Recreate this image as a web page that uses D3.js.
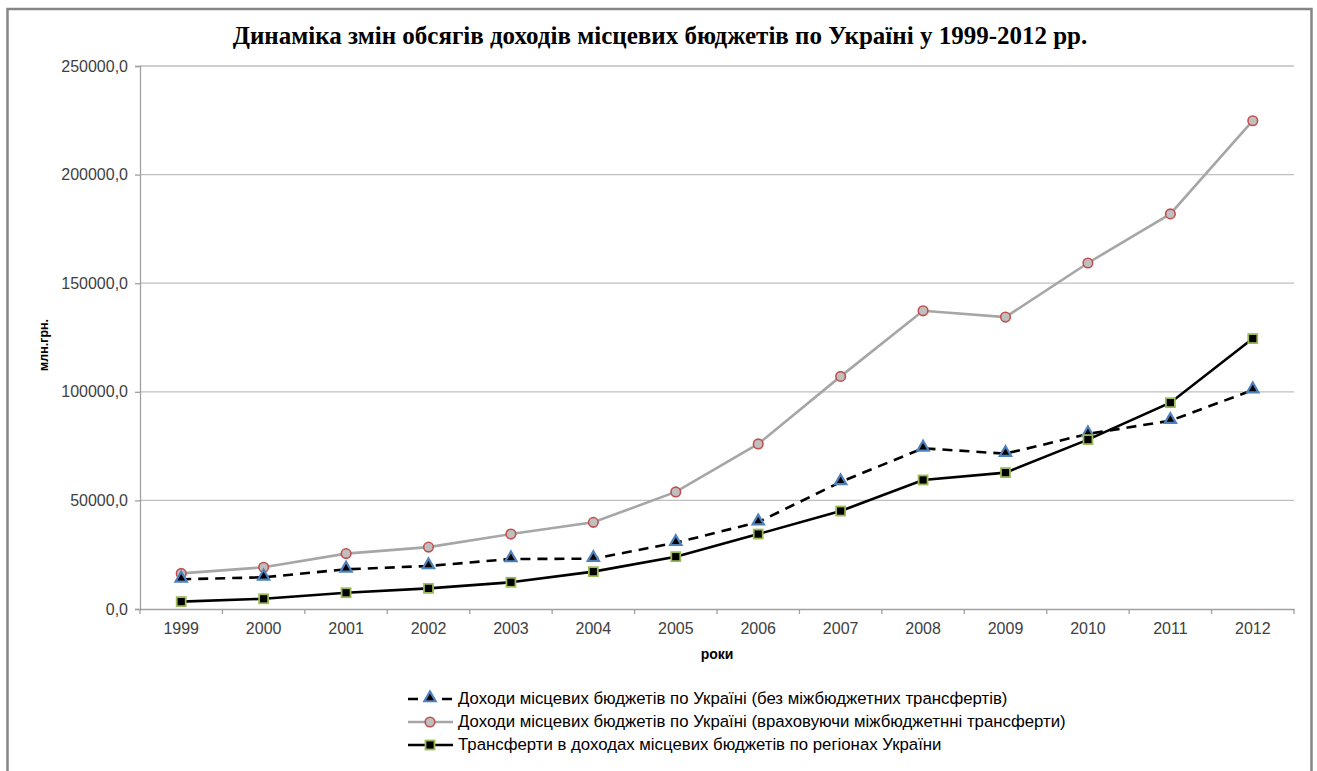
<!DOCTYPE html>
<html>
<head>
<meta charset="utf-8">
<script src="https://d3js.org/d3.v7.min.js"></script>
<style>
	body { margin: 0; background: #fff; }
	svg text { font-family: "Liberation Sans", Arial, sans-serif; fill: #404040; }
</style>
</head>
<body>
<div id='chart'></div>
<script type="text/javascript">
	const years = ['1999','2000','2001','2002','2003','2004','2005','2006','2007','2008','2009','2010','2011','2012']
	const withoutTransfers = [13670, 14590, 18280, 19800, 23020, 23160, 30500, 40000, 58500, 74000, 71500, 80600, 86700, 100800]
	const withTransfers = [16400, 19200, 25500, 28500, 34500, 39900, 53900, 76000, 107100, 137300, 134400, 159300, 181900, 224800]
	const transfers = [3400, 4700, 7500, 9500, 12300, 17200, 24100, 34500, 45100, 59400, 62800, 78000, 95000, 124500]
	const yTicks = [0, 50000, 100000, 150000, 200000, 250000]
	const seriesNames = [
		'Доходи місцевих бюджетів по Україні (без міжбюджетних трансфертів)',
		'Доходи місцевих бюджетів по Україні (враховуючи міжбюджетнні трансферти)',
		'Трансферти в доходах місцевих бюджетів по регіонах України'
	]
	const title = 'Динаміка змін обсягів доходів місцевих бюджетів по Україні у 1999-2012 рр.'

	const w = 1317, h = 771
	const svg = d3.select('#chart').append('svg')
		.attr('width', w)
		.attr('height', h)

	// outer frame
	svg.append('rect')
		.attr('x', 7.5).attr('y', 9)
		.attr('width', 1304).attr('height', 775)
		.style('fill', '#fff')
		.style('stroke', '#868686')
		.style('stroke-width', 2.5)

	const x = d3.scaleBand().domain(years).range([140, 1294])
	const y = d3.scaleLinear().domain([0, 250000]).range([609, 66])
	const fmt = d3.formatLocale({decimal: ',', thousands: '', grouping: [3]}).format('.1f')

	// gridlines
	svg.append('g')
		.selectAll('line')
		.data(yTicks.slice(1))
		.enter()
		.append('line')
		.attr('x1', 140).attr('x2', 1294)
		.attr('y1', d => y(d)).attr('y2', d => y(d))
		.style('stroke', '#bfbfbf')
		.style('stroke-width', 1.3)

	const yAxis = svg.append('g')
		.attr('transform', 'translate(140,0)')
		.call(d3.axisLeft(y).tickValues(yTicks).tickFormat(fmt).tickSize(5).tickPadding(7))
	yAxis.selectAll('path, line').style('stroke', '#a0a0a0').style('stroke-width', 1.3)
	yAxis.selectAll('text').style('font-size', '16px').style('fill', '#404040')

	const xAxis = svg.append('g')
		.attr('transform', 'translate(0,609)')
		.call(d3.axisBottom(x).tickSize(0).tickPadding(14))
	xAxis.select('path').style('stroke', '#a0a0a0').style('stroke-width', 1.3)
	xAxis.selectAll('text').style('font-size', '16px').style('fill', '#404040')
	svg.append('g')
		.selectAll('line')
		.data(years.concat(['end']))
		.enter()
		.append('line')
		.attr('x1', (d, i) => 140 + i * x.step()).attr('x2', (d, i) => 140 + i * x.step())
		.attr('y1', 609).attr('y2', 614)
		.style('stroke', '#a0a0a0')
		.style('stroke-width', 1.3)

	// titles
	svg.append('text')
		.attr('x', 660).attr('y', 44)
		.attr('text-anchor', 'middle')
		.style('font-family', '"Liberation Serif", "Times New Roman", serif')
		.style('font-weight', 'bold')
		.style('font-size', '25px')
		.style('fill', '#000')
		.text(title)

	svg.append('text')
		.attr('transform', 'translate(48,345) rotate(-90)')
		.attr('text-anchor', 'middle')
		.style('font-weight', 'bold')
		.style('font-size', '12.5px')
		.style('fill', '#000')
		.text('млн.грн.')

	svg.append('text')
		.attr('x', 717).attr('y', 659)
		.attr('text-anchor', 'middle')
		.style('font-weight', 'bold')
		.style('font-size', '14px')
		.style('fill', '#000')
		.text('роки')

	const cx = (d, i) => x(years[i]) + x.bandwidth() / 2
	const line = d3.line().x(cx).y(d => y(d))

	const styles = [
		{data: withoutTransfers, stroke: '#000', dash: '10,7', marker: 'tri'},
		{data: withTransfers, stroke: '#a6a6a6', dash: null, marker: 'circ'},
		{data: transfers, stroke: '#000', dash: null, marker: 'sq'}
	]

	function drawMarker(g, type, px, py) {
		if (type == 'tri') {
			g.append('path')
				.attr('d', d3.symbol().type(d3.symbolTriangle).size(55)())
				.attr('transform', 'translate(' + px + ',' + (py - 1) + ')')
				.style('fill', '#000')
				.style('stroke', '#4f81bd')
				.style('stroke-width', 2.2)
		} else if (type == 'circ') {
			g.append('circle')
				.attr('cx', px).attr('cy', py).attr('r', 4.8)
				.style('fill', '#bfbfbf')
				.style('stroke', '#c0504d')
				.style('stroke-width', 1.6)
		} else {
			g.append('rect')
				.attr('x', px - 4.5).attr('y', py - 4.5)
				.attr('width', 9).attr('height', 9)
				.style('fill', '#000')
				.style('stroke', '#9bbb59')
				.style('stroke-width', 1.8)
		}
	}

	// draw order: gray, dashed, solid
	;[1, 0, 2].forEach(k => {
		const s = styles[k]
		const g = svg.append('g')
		g.append('path')
			.datum(s.data)
			.attr('d', line)
			.style('fill', 'none')
			.style('stroke', s.stroke)
			.style('stroke-width', 2.6)
			.style('stroke-dasharray', s.dash)
		s.data.forEach((d, i) => drawMarker(g, s.marker, cx(d, i), y(d)))
	})

	// legend
	const legendY = [699, 722, 745]
	styles.forEach((s, i) => {
		const g = svg.append('g')
		g.append('line')
			.attr('x1', 408).attr('x2', 453)
			.attr('y1', legendY[i]).attr('y2', legendY[i])
			.style('stroke', s.stroke)
			.style('stroke-width', 2.6)
			.style('stroke-dasharray', s.dash)
		drawMarker(g, s.marker, 430, legendY[i])
		g.append('text')
			.attr('x', 458).attr('y', legendY[i] + 5)
			.style('font-size', '16.8px')
			.style('fill', '#000')
			.text(seriesNames[i])
	})
</script>
</body>
</html>
